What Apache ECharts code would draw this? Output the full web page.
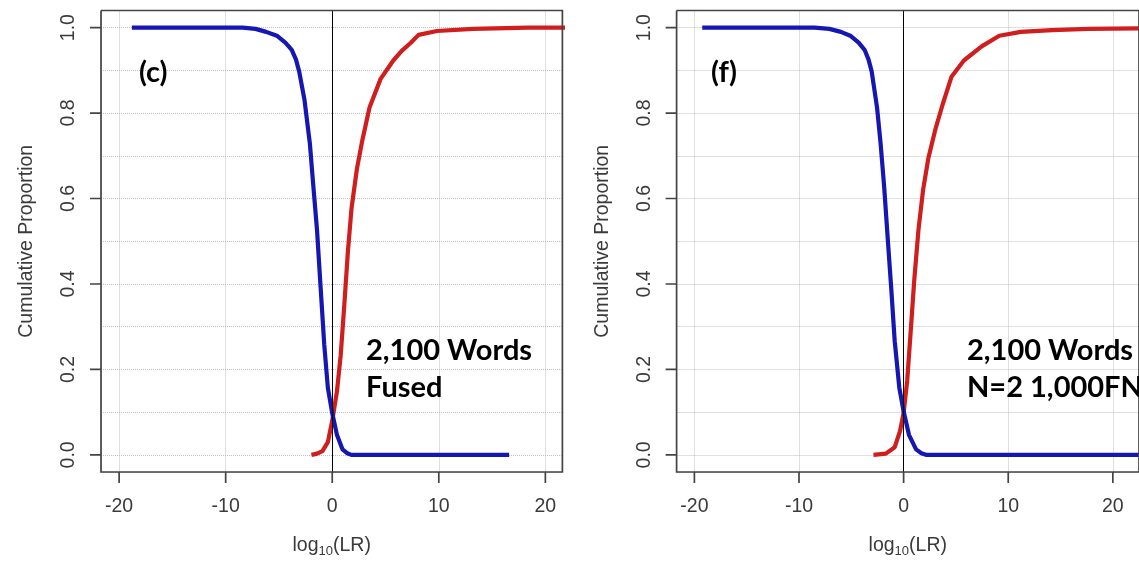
<!DOCTYPE html>
<html><head><meta charset="utf-8">
<script src="https://cdn.jsdelivr.net/npm/echarts@6/dist/echarts.min.js"></script>
<style>html,body{margin:0;padding:0;background:#fff}#c{width:1139px;height:563px}</style>
</head><body><div id="c"></div>
<script>
// ---- tick labels / reference ----
const xTicks = [-20, -10, 0, 10, 20];
const yTicks = [0, 0.2, 0.4, 0.6, 0.8, 1.0];
const refLineX = 0;

// ---- panel (c): 2,100 Words Fused ----
const cBlueX = [-18.8, -8.4, -7.2, -6.2, -5.2, -4.4, -3.8, -3.4, -3.1, -2.6, -2.1, -1.77, -1.43, -1.09, -0.75, -0.41, 0, 0.44, 0.96, 1.4, 1.8, 16.6];
const cBlueY = [1.0, 1.0, 0.997, 0.99, 0.981, 0.965, 0.948, 0.925, 0.897, 0.83, 0.729, 0.628, 0.527, 0.392, 0.258, 0.157, 0.098, 0.047, 0.013, 0.004, 0.0, 0.0];
const cRedX = [-1.95, -1.43, -0.92, -0.41, 0, 0.44, 0.79, 1.13, 1.47, 1.81, 2.32, 2.83, 3.5, 4.54, 5.73, 6.5, 7.4, 8.1, 9.83, 13.2, 18.4, 22];
const cRedY = [0, 0.003, 0.009, 0.03, 0.08, 0.148, 0.232, 0.35, 0.476, 0.577, 0.67, 0.737, 0.813, 0.88, 0.923, 0.945, 0.965, 0.983, 0.992, 0.997, 1.0, 1.0];

// ---- panel (f): 2,100 Words N=2 1,000FN ----
const fBlueX = [-19.25, -8.5, -7.1, -6.0, -5.1, -4.3, -3.73, -3.35, -3.05, -2.54, -2.2, -1.86, -1.53, -1.19, -0.85, -0.41, 0, 0.51, 1.19, 1.7, 2.2, 22.5];
const fBlueY = [1, 1, 0.997, 0.99, 0.981, 0.965, 0.948, 0.925, 0.897, 0.813, 0.729, 0.628, 0.51, 0.392, 0.266, 0.157, 0.102, 0.047, 0.013, 0.004, 0, 0];
const fRedX = [-2.88, -1.7, -0.85, -0.34, 0, 0.34, 0.68, 1.02, 1.42, 1.86, 2.37, 3.05, 3.73, 4.58, 5.76, 7.46, 9.15, 11.2, 14.2, 17.6, 22.5];
const fRedY = [0, 0.003, 0.018, 0.056, 0.098, 0.173, 0.29, 0.41, 0.527, 0.62, 0.695, 0.763, 0.82, 0.885, 0.923, 0.956, 0.981, 0.99, 0.994, 0.997, 0.998];

const pairs = (xs, ys) => xs.map((x, i) => [x, ys[i]]);

const BLUE = '#1616b2', RED = '#d01e1e';
const TXT = '#3a3a3a', AXC = '#444444';
const FONT = 'Liberation Sans, Arial, sans-serif';
const ANN = 'Lato, Open Sans, sans-serif';
const FS = 19.5;
const X_MIN = -21.7, Y_MIN = -0.04, Y_MAX = 1.04;
const X_MAX = [21.6, 22.5];
const TICK_LEN = 11;

function xAxisFor(gi) {
  return {
    gridIndex: gi, type: 'value', min: X_MIN, max: X_MAX[gi], minInterval: 10, maxInterval: 10,
    axisLine: { show: false, onZero: false },
    axisTick: { show: false },
    axisLabel: { customValues: xTicks, margin: 25, fontSize: FS, color: TXT, fontFamily: FONT },
    splitLine: { show: true, lineStyle: { type: 'dotted', color: '#c0c0c0', width: 1 } },
    name: '{a|log}{b|10}{a|(LR)}', nameLocation: 'middle', nameGap: 64,
    nameTextStyle: { rich: {
      a: { fontSize: FS, color: TXT, fontFamily: FONT, lineHeight: 22, verticalAlign: 'top' },
      b: { fontSize: 13, color: TXT, fontFamily: FONT, lineHeight: 13, padding: [11, 0, 0, 0], verticalAlign: 'bottom' }
    } }
  };
}
function yAxisFor(gi) {
  return {
    gridIndex: gi, type: 'value', min: Y_MIN, max: Y_MAX, minInterval: 0.1, maxInterval: 0.1,
    axisLine: { show: false, onZero: false },
    axisTick: { show: false },
    axisLabel: { customValues: yTicks, rotate: 90, margin: 22, fontSize: FS, color: TXT, fontFamily: FONT,
      formatter: v => Number(v).toFixed(1) },
    splitLine: { show: true, lineStyle: { type: 'dotted', color: '#c0c0c0', width: 1 } },
    name: 'Cumulative Proportion', nameLocation: 'middle', nameRotate: 90, nameGap: 64,
    nameTextStyle: { fontSize: FS, color: TXT, fontFamily: FONT }
  };
}
function curve(gi, data, color, withRef) {
  const s = {
    type: 'line', xAxisIndex: gi, yAxisIndex: gi, data: data, showSymbol: false, symbol: 'none',
    lineStyle: { color: color, width: 4.2 }, itemStyle: { color: color }, silent: true, clip: true, animation: false
  };
  if (withRef) {
    s.markLine = { silent: true, symbol: 'none', animation: false, label: { show: false },
      lineStyle: { color: '#000', width: 1, type: 'solid' }, data: [{ xAxis: refLineX }] };
  }
  return s;
}

const chart = echarts.init(document.getElementById('c'), null, { renderer: 'canvas' });
chart.setOption({
  backgroundColor: '#fff',
  animation: false,
  grid: [
    { left: 101, top: 10.5, width: 461.4, height: 463, show: false, containLabel: false },
    { left: 676.6, top: 10.5, width: 471.6, height: 463, show: false, containLabel: false }
  ],
  xAxis: [xAxisFor(0), xAxisFor(1)],
  yAxis: [yAxisFor(0), yAxisFor(1)],
  series: [
    curve(0, pairs(cRedX, cRedY), RED, true),
    curve(0, pairs(cBlueX, cBlueY), BLUE, false),
    curve(1, pairs(fRedX, fRedY), RED, true),
    curve(1, pairs(fBlueX, fBlueY), BLUE, false)
  ]
});

// box with outward tick marks, drawn as one polyline per panel through each grid's own scales
const gfx = [];
[0, 1].forEach(gi => {
  const f = { gridIndex: gi };
  const tl = chart.convertToPixel(f, [X_MIN, Y_MAX]);
  const br = chart.convertToPixel(f, [X_MAX[gi], Y_MIN]);
  const pts = [];
  // start at top-left, go down the left side, adding y ticks (top to bottom)
  pts.push([tl[0], tl[1]]);
  yTicks.slice().sort((a, b) => b - a).forEach(v => {
    const p = chart.convertToPixel(f, [X_MIN, v]);
    pts.push([tl[0], p[1]], [tl[0] - TICK_LEN, p[1]], [tl[0], p[1]]);
  });
  pts.push([tl[0], br[1]]);
  // along the bottom, adding x ticks (left to right)
  xTicks.forEach(v => {
    const p = chart.convertToPixel(f, [v, Y_MIN]);
    pts.push([p[0], br[1]], [p[0], br[1] + TICK_LEN], [p[0], br[1]]);
  });
  pts.push([br[0], br[1]], [br[0], tl[1]], [tl[0], tl[1]]);
  gfx.push({ type: 'polyline', z: 100, silent: true, shape: { points: pts },
    style: { fill: null, stroke: AXC, lineWidth: 1.7, lineJoin: 'miter' } });
});
const ann = (text, left, top) => ({ type: 'text', left: left, top: top, z: 100,
  style: { text: text, fontSize: 29, fontWeight: 'bold', fontFamily: ANN, fill: '#000' } });
gfx.push(ann('(c)', 139, 58), ann('2,100 Words', 366, 336), ann('Fused', 366, 373),
         ann('(f)', 711, 58), ann('2,100 Words', 967, 336), ann('N=2 1,000FN', 967, 373));
chart.setOption({ graphic: gfx });
</script></body></html>
